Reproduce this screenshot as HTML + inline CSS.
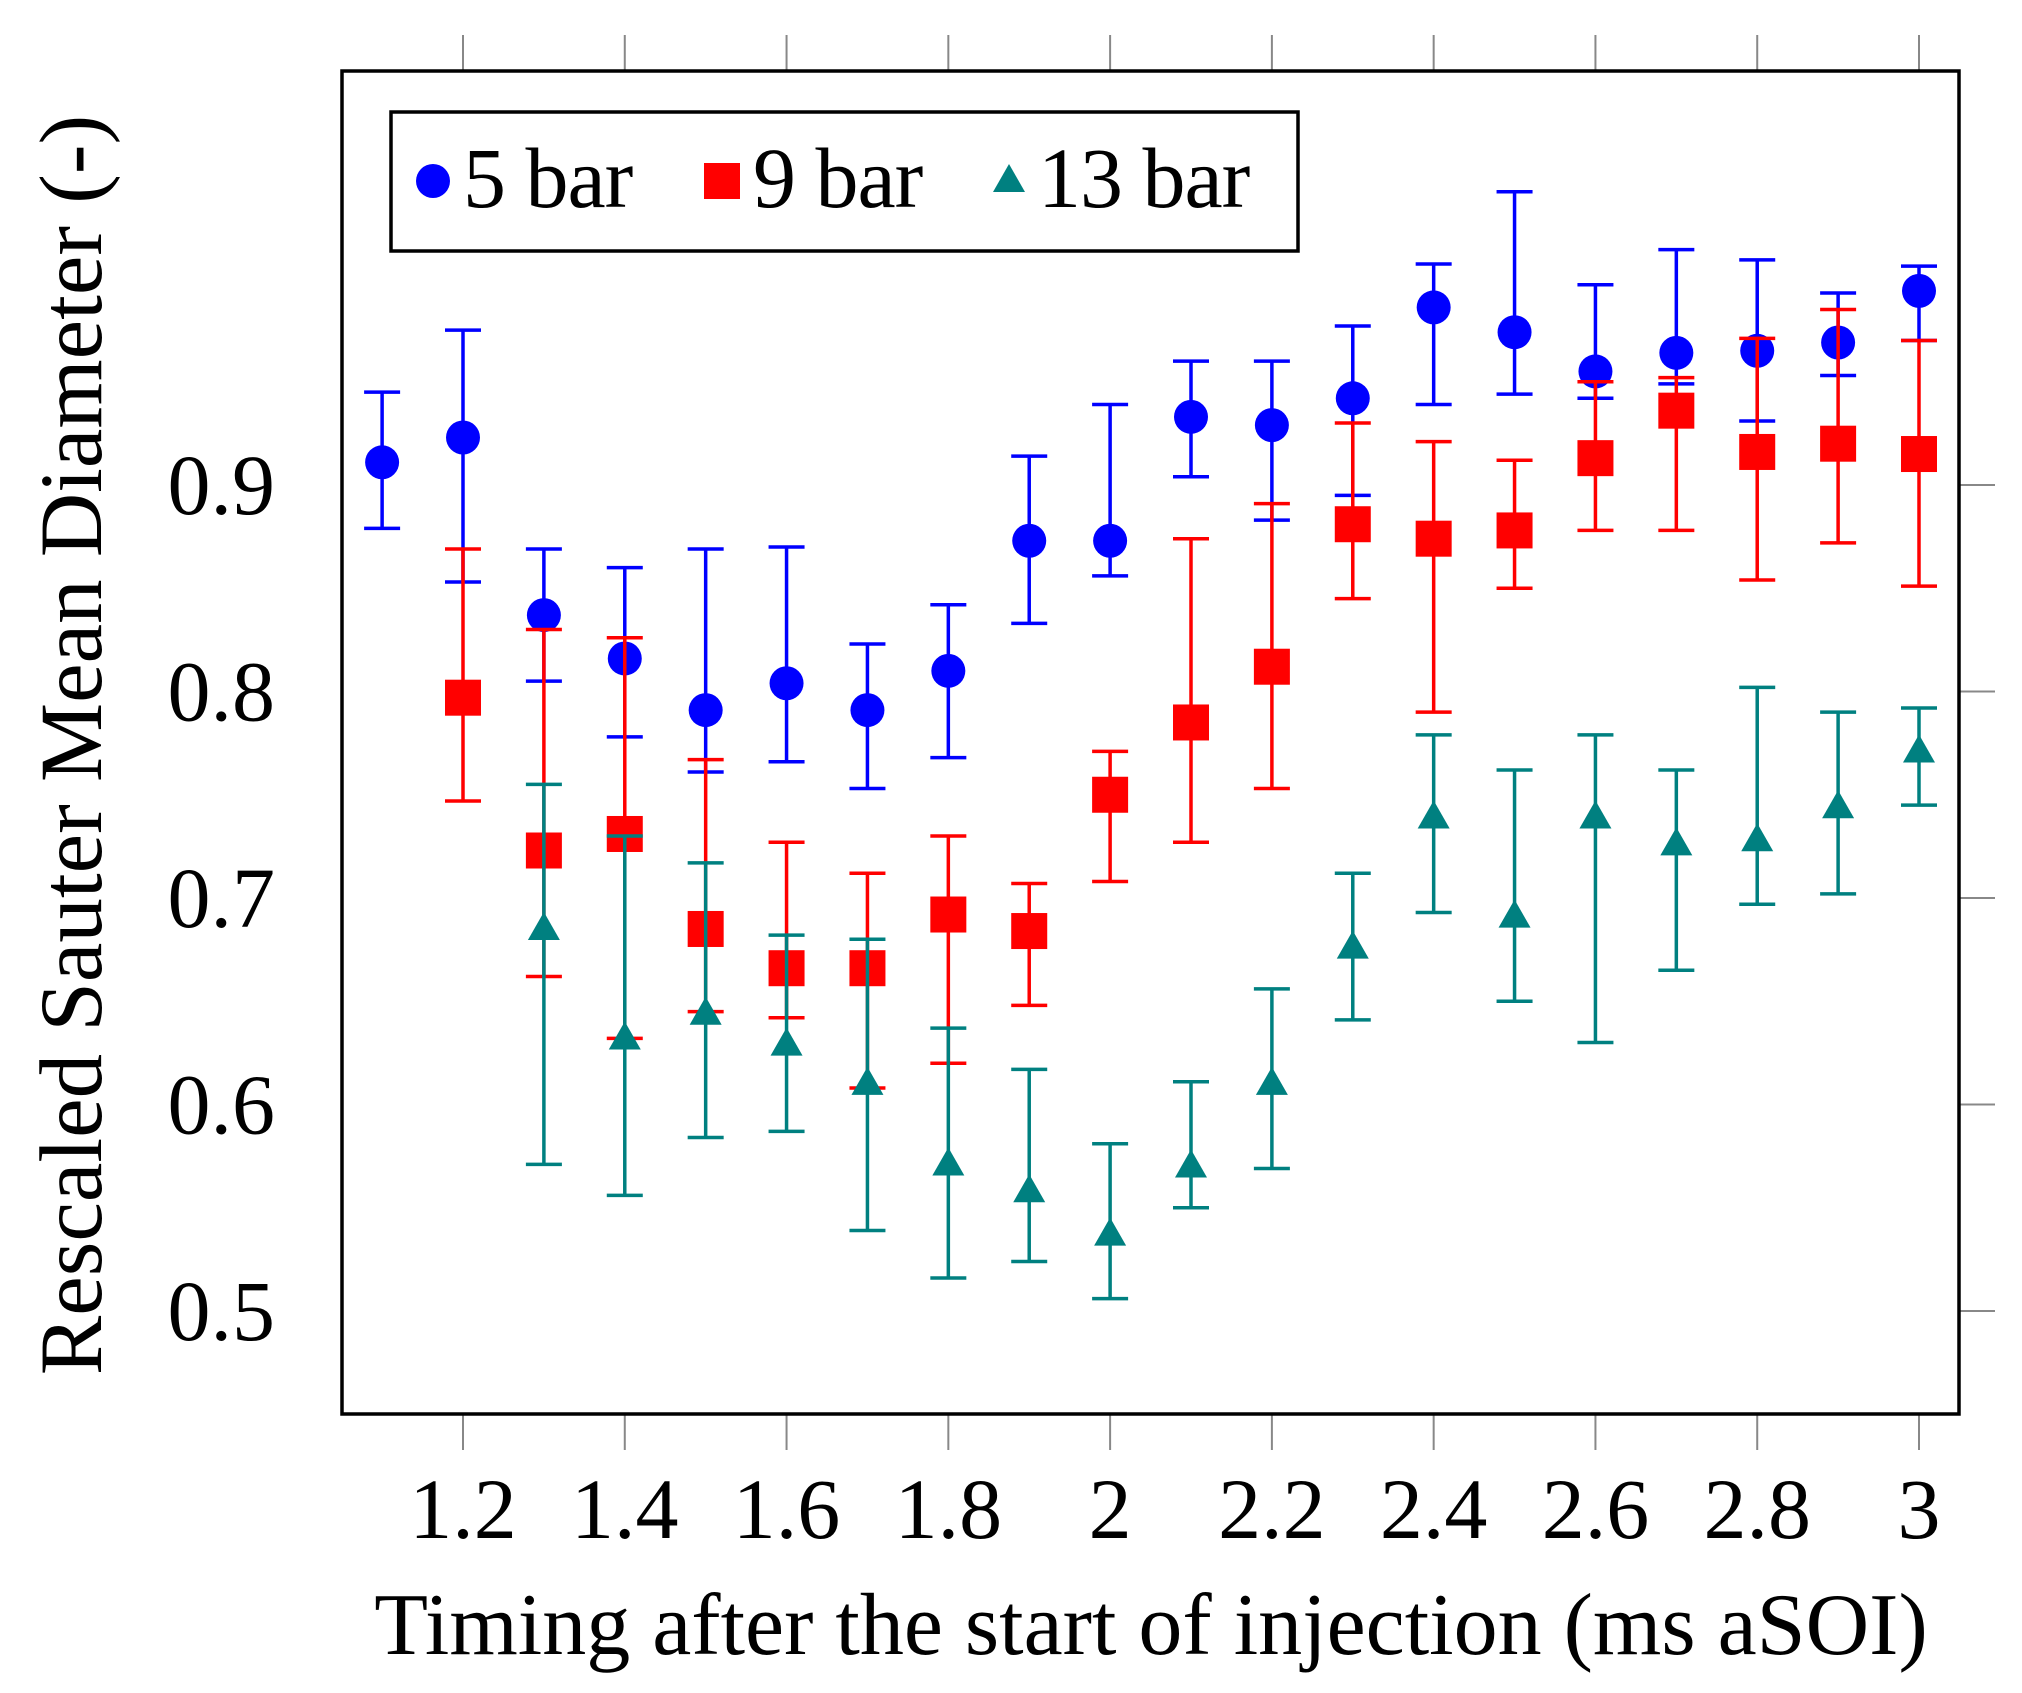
<!DOCTYPE html>
<html><head><meta charset="utf-8"><style>
html,body{margin:0;padding:0;background:#fff;}
svg{display:block;font-family:"Liberation Serif",serif;}
</style></head><body>
<svg id="chart" width="2022" height="1693" viewBox="0 0 2022 1693" xmlns="http://www.w3.org/2000/svg">
<g id="grid-ticks"></g>
<g id="series"></g>
<rect x="342" y="71" width="1617" height="1343" fill="none" stroke="#000" stroke-width="3.5"/>
<g id="labels"></g>
<text x="1151" y="1654" font-size="88" text-anchor="middle">Timing after the start of injection (ms aSOI)</text>
<text transform="translate(101,745) rotate(-90)" font-size="89" text-anchor="middle">Rescaled Sauter Mean Diameter (-)</text>
<g>
<rect x="391" y="112" width="907" height="139" fill="#fff" stroke="#000" stroke-width="3.5"/>
<circle cx="433" cy="181" r="17" fill="#0000ff"/>
<text x="463" y="207" font-size="86" letter-spacing="-1">5 bar</text>
<rect x="704" y="163" width="36" height="36" fill="#ff0000"/>
<text x="753" y="207" font-size="86" letter-spacing="-1">9 bar</text>
<polygon points="1009,164 1025,192 993,192" fill="#008080"/>
<text x="1038" y="207" font-size="86" letter-spacing="-1">13 bar</text>
</g>
</svg>
<script>
const xTicks = [1.2,1.4,1.6,1.8,2,2.2,2.4,2.6,2.8,3];
const xTickLabels = ["1.2","1.4","1.6","1.8","2","2.2","2.4","2.6","2.8","3"];
const yTicks = [0.5,0.6,0.7,0.8,0.9];
const yTickLabels = ["0.5","0.6","0.7","0.8","0.9"];

const x5 = [1.1,1.2,1.3,1.4,1.5,1.6,1.7,1.8,1.9,2.0,2.1,2.2,2.3,2.4,2.5,2.6,2.7,2.8,2.9,3.0];
const y5 = [0.911,0.923,0.837,0.816,0.791,0.804,0.791,0.810,0.873,0.873,0.933,0.929,0.942,0.986,0.974,0.955,0.964,0.965,0.969,0.994];
const hi5 = [0.945,0.975,0.869,0.860,0.869,0.870,0.823,0.842,0.914,0.939,0.960,0.960,0.977,1.007,1.042,0.997,1.014,1.009,0.993,1.006];
const lo5 = [0.879,0.853,0.805,0.778,0.761,0.766,0.753,0.768,0.833,0.856,0.904,0.883,0.895,0.939,0.944,0.942,0.949,0.931,0.953,0.970];

const x9 = [1.2,1.3,1.4,1.5,1.6,1.7,1.8,1.9,2.0,2.1,2.2,2.3,2.4,2.5,2.6,2.7,2.8,2.9,3.0];
const y9 = [0.797,0.723,0.731,0.685,0.666,0.666,0.692,0.684,0.750,0.785,0.812,0.881,0.874,0.878,0.913,0.936,0.916,0.920,0.915];
const hi9 = [0.869,0.830,0.826,0.767,0.727,0.712,0.730,0.707,0.771,0.874,0.891,0.930,0.921,0.912,0.950,0.952,0.971,0.985,0.970];
const lo9 = [0.747,0.662,0.632,0.645,0.642,0.608,0.620,0.648,0.708,0.727,0.753,0.845,0.790,0.850,0.878,0.878,0.854,0.872,0.851];

const x13 = [1.3,1.4,1.5,1.6,1.7,1.8,1.9,2.0,2.1,2.2,2.3,2.4,2.5,2.6,2.7,2.8,2.9,3.0];
const y13 = [0.684,0.631,0.643,0.628,0.609,0.570,0.557,0.536,0.569,0.609,0.675,0.738,0.690,0.738,0.725,0.727,0.743,0.770];
const hi13 = [0.755,0.730,0.717,0.682,0.680,0.637,0.617,0.581,0.611,0.656,0.712,0.779,0.762,0.779,0.762,0.802,0.790,0.792];
const lo13 = [0.571,0.556,0.584,0.587,0.539,0.516,0.524,0.506,0.550,0.569,0.641,0.693,0.650,0.630,0.665,0.697,0.702,0.745];

const NS = "http://www.w3.org/2000/svg";
function sx(v){ return 463 + (v-1.2)/1.8*(1919-463); }
function sy(v){ return 485 + (0.9-v)/0.4*(1311-485); }
function mk(tag, attrs, parent){
  const e = document.createElementNS(NS, tag);
  for (const k in attrs) e.setAttribute(k, attrs[k]);
  parent.appendChild(e); return e;
}
const ticks = document.getElementById('grid-ticks');
const labels = document.getElementById('labels');
xTicks.forEach((t,i)=>{
  const x = sx(t);
  const a = mk('line',{x1:x,x2:x,y1:35,y2:71,stroke:'#888','stroke-width':2},ticks);
  
  
  const b = mk('line',{x1:x,x2:x,y1:1414,y2:1450,stroke:'#888','stroke-width':2},ticks);
  
  
  const l = mk('text',{x:x,y:1538,'font-size':86,'text-anchor':'middle'},labels);
  l.textContent = xTickLabels[i];
  
  
});
yTicks.forEach((t,i)=>{
  const y = sy(t);
  const a = mk('line',{x1:1959,x2:1995,y1:y,y2:y,stroke:'#888','stroke-width':2},ticks);
  
  
  const l = mk('text',{x:275,y:y+29,'font-size':86,'text-anchor':'end'},labels);
  l.textContent = yTickLabels[i];
  
  
});
const series = document.getElementById('series');
function drawSeries(xs, ys, his, los, color, shape, name){
  const g = mk('g',{},series);
  
  
  xs.forEach((xv,i)=>{
    const x = sx(xv), yh = sy(his[i]), yl = sy(los[i]);
    const eb = mk('path',{d:`M${x},${yh}V${yl}M${x-18},${yh}H${x+18}M${x-18},${yl}H${x+18}`,stroke:color,'stroke-width':3.5,fill:'none'},g);
    
    
  });
  xs.forEach((xv,i)=>{
    const x = sx(xv), y = sy(ys[i]);
    let m;
    if (shape==='circle') m = mk('circle',{cx:x,cy:y,r:17,fill:color},g);
    else if (shape==='square') m = mk('rect',{x:x-18,y:y-18,width:36,height:36,fill:color},g);
    else m = mk('polygon',{points:`${x},${y-19} ${x+16},${y+9} ${x-16},${y+9}`,fill:color},g);
    
    
  });
}
drawSeries(x5,y5,hi5,lo5,'#0000ff','circle','5bar');
drawSeries(x9,y9,hi9,lo9,'#ff0000','square','9bar');
drawSeries(x13,y13,hi13,lo13,'#008080','triangle','13bar');
</script>
</body></html>
